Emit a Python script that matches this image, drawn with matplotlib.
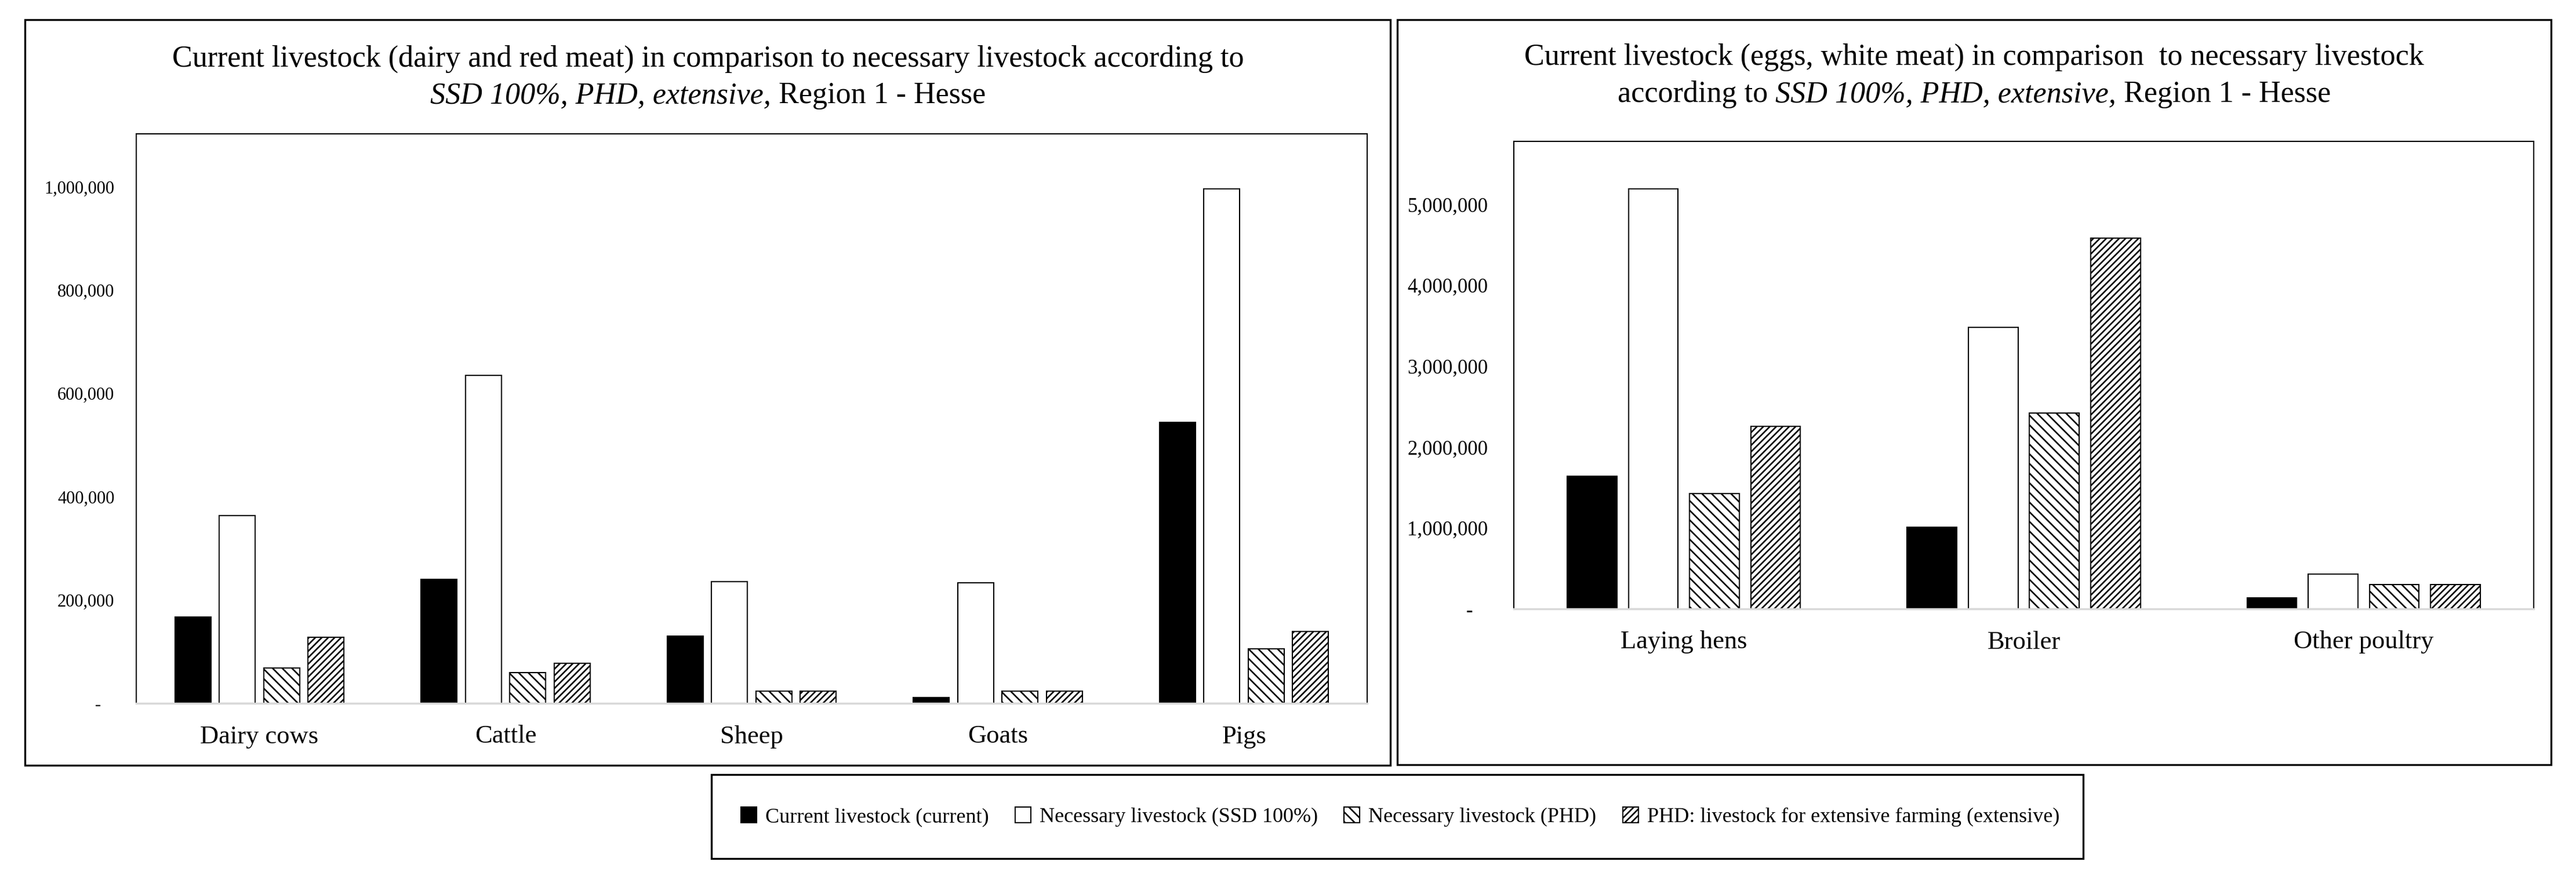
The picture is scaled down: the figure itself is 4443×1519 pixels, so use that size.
import numpy as np
import matplotlib.pyplot as plt
from matplotlib.patches import Rectangle, Patch
from matplotlib.ticker import FuncFormatter

plt.rcParams['font.family'] = ['Liberation Serif', 'DejaVu Serif']
plt.rcParams['hatch.linewidth'] = 1.9

W, H = 4443, 1519

# dairy and red meat (left chart)
cats_red = ["Dairy cows", "Cattle", "Sheep", "Goats", "Pigs"]
current_red = [167000, 240000, 130000, 11500, 544000]
ssd_red = [364000, 635000, 236000, 233000, 996000]
phd_red = [69000, 60000, 24000, 24000, 105000]
ext_red = [128000, 77000, 24000, 24000, 139000]

# eggs and white meat (right chart)
cats_white = ["Laying hens", "Broiler", "Other poultry"]
current_white = [1642000, 1013000, 134000]
ssd_white = [5195000, 3480000, 427000]
phd_white = [1422000, 2424000, 299000]
ext_white = [2259000, 4585000, 299000]

labels = ["Current livestock (current)", "Necessary livestock (SSD 100%)",
          "Necessary livestock (PHD)", "PHD: livestock for extensive farming (extensive)"]

fills = ["black", "white", "white", "white"]
hatches = [None, None, "\\\\", "///"]


def rect(x0, y0, x1, y1):
    return [x0 / W, 1 - y1 / H, (x1 - x0) / W, (y1 - y0) / H]


def box(x0, y0, x1, y1, lw=2.4):
    fig.add_artist(Rectangle((x0 / W, 1 - y1 / H), (x1 - x0) / W, (y1 - y0) / H,
                             transform=fig.transFigure, fill=False, ec="black", lw=lw))


def fmt(v, p):
    if v == 0:
        return "-   "
    return f"{int(v):,}"


def draw_chart(ax, cats, series, ymax, yticks, ysize, ypad):
    x = np.arange(len(cats))
    for j, vals in enumerate(series):
        ax.bar(x + (j - 1.5) * 0.18, vals, 0.146, color=fills[j],
               edgecolor="black", linewidth=1.5, hatch=hatches[j])
    ax.set_xlim(-0.5, len(cats) - 0.5)
    ax.set_ylim(0, ymax)
    ax.set_xticks(x)
    ax.set_xticklabels(cats)
    ax.set_yticks(yticks)
    ax.yaxis.set_major_formatter(FuncFormatter(fmt))
    ax.tick_params(axis="y", length=0, pad=ypad, labelsize=ysize)
    ax.tick_params(axis="x", length=0, pad=27, labelsize=32)
    for s in ["top", "left", "right"]:
        ax.spines[s].set_linewidth(1.5)
        ax.spines[s].set_color("black")
    ax.spines["bottom"].set_color("#d9d9d9")
    ax.spines["bottom"].set_linewidth(2.5)


def title_line(segs, xc, y, size):
    r = fig.canvas.get_renderer()
    a = fig.text(0, 0, "x x", fontsize=size)
    b = fig.text(0, 0, "xx", fontsize=size)
    space = a.get_window_extent(r).width - b.get_window_extent(r).width
    a.remove()
    b.remove()
    texts = []
    total = 0
    for s, style, gap in segs:
        t = fig.text(0, 1 - y / H, s, fontsize=size, style=style, va="center", ha="left")
        w = t.get_window_extent(r).width
        texts.append((t, w, gap))
        total += w + gap * space
    x = xc - total / 2
    for t, w, gap in texts:
        x += gap * space
        t.set_x(x / W)
        x += w


fig = plt.figure(figsize=(W / 100, H / 100), dpi=100)

# panel frames
box(43, 34, 2398, 1321)
box(2410, 34, 4400, 1320)
box(1227, 1337, 3593, 1482)

ax1 = fig.add_axes(rect(235, 231, 2358, 1214))
draw_chart(ax1, cats_red, [current_red, ssd_red, phd_red, ext_red], 1103000,
           np.arange(0, 1000001, 200000), 22, 27)

ax2 = fig.add_axes(rect(2611, 244, 4370, 1051))
draw_chart(ax2, cats_white, [current_white, ssd_white, phd_white, ext_white], 5780000,
           np.arange(0, 5000001, 1000000), 25, 32)

tsize = 37.5
title_line([("Current livestock (dairy and red meat) in comparison to necessary livestock according to", "normal", 0)],
           1221, 102, tsize)
title_line([("SSD 100%, PHD, extensive,", "italic", 0), ("Region 1 - Hesse", "normal", 1)],
           1221, 165, tsize)
title_line([("Current livestock (eggs, white meat) in comparison  to necessary livestock", "normal", 0)],
           3405, 99, tsize)
title_line([("according to", "normal", 0), ("SSD 100%, PHD, extensive,", "italic", 1), ("Region 1 - Hesse", "normal", 1)],
           3405, 163, tsize)

handles = []
for j in range(4):
    handles.append(Patch(facecolor=fills[j], edgecolor="black", hatch=hatches[j], linewidth=1.5))
fig.legend(handles, labels, loc="center", bbox_to_anchor=(2415 / W, 1 - 1410 / H),
           ncol=4, frameon=False, fontsize=26, handlelength=0.75, handleheight=0.75,
           handletextpad=0.42, columnspacing=1.25)

fig.savefig("out.png", dpi=100, facecolor="white")
